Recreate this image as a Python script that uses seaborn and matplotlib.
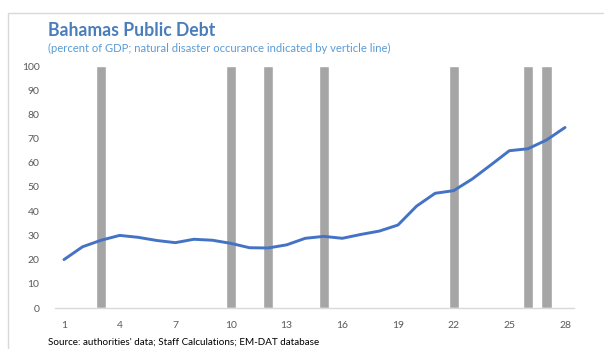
import matplotlib
matplotlib.use("Agg")
import matplotlib.pyplot as plt
from matplotlib.patches import Rectangle
import seaborn as sns
import pandas as pd

# Public debt, percent of GDP, by period index
periods = list(range(1, 29))
debt = [20.0, 25.3, 28.0, 30.0, 29.2, 27.9, 27.0, 28.4, 28.0, 26.7,
        24.9, 24.8, 26.1, 28.8, 29.6, 28.8, 30.4, 31.8, 34.3, 42.1,
        47.4, 48.5, 53.3, 59.1, 65.0, 65.8, 69.4, 74.6]

# Periods with a natural disaster (full-height markers)
disaster_periods = [3, 10, 12, 15, 22, 26, 27]
disaster_height = [100, 100, 100, 100, 100, 100, 100]

x_ticks = [1, 4, 7, 10, 13, 16, 19, 22, 25, 28]
y_ticks = [0, 10, 20, 30, 40, 50, 60, 70, 80, 90, 100]

sns.set_theme(style="white")
plt.rcParams["font.family"] = ["Lato", "DejaVu Sans"]

W, H = 604, 349
fig = plt.figure(figsize=(W / 100, H / 100), dpi=100)
ax = fig.add_axes([54.7 / W, 1 - 308 / H, (574.3 - 54.7) / W, (308 - 66) / H])

bars = pd.DataFrame({"period": disaster_periods, "height": disaster_height})
line = pd.DataFrame({"period": periods, "debt": debt})

sns.barplot(data=bars, x="period", y="height", native_scale=True,
            width=0.55, color="#A5A5A5", saturation=1, ax=ax, zorder=1)
sns.lineplot(data=line, x="period", y="debt", color="#4472C4",
             linewidth=2.1, ax=ax, zorder=3)

ax.set_xlim(0.5, 28.5)
ax.set_ylim(0, 100)
ax.set_xticks(x_ticks)
ax.set_yticks(y_ticks)
ax.set_xlabel("")
ax.set_ylabel("")
ax.tick_params(axis="both", length=0, labelsize=7.5, colors="#595959")
ax.tick_params(axis="x", pad=9)
ax.tick_params(axis="y", pad=11)
for s in ["top", "right", "left"]:
    ax.spines[s].set_visible(False)
ax.spines["bottom"].set_color("#D9D9D9")
ax.spines["bottom"].set_linewidth(1.0)
ax.set_facecolor("none")

# Light outer chart frame
fig.patches.append(Rectangle((8 / W, -0.1), 1.2, 1 - 13 / H + 0.1,
                             transform=fig.transFigure, fill=False,
                             edgecolor="#D9D9D9", linewidth=1.0))

fig.text(48 / W, 1 - 30 / H, "Bahamas Public Debt", fontsize=12.7,
         fontweight="bold", color="#4A7EBB", va="center", ha="left")
fig.text(48 / W, 1 - 48 / H,
         "(percent of GDP; natural disaster occurance indicated by verticle line)",
         fontsize=8.15, color="#5B9BD5", va="center", ha="left")
fig.text(48 / W, 1 - 342 / H,
         "Source: authorities' data; Staff Calculations; EM-DAT database",
         fontsize=7.1, color="#000000", va="center", ha="left")

fig.savefig("out.png", dpi=100, facecolor="white")
